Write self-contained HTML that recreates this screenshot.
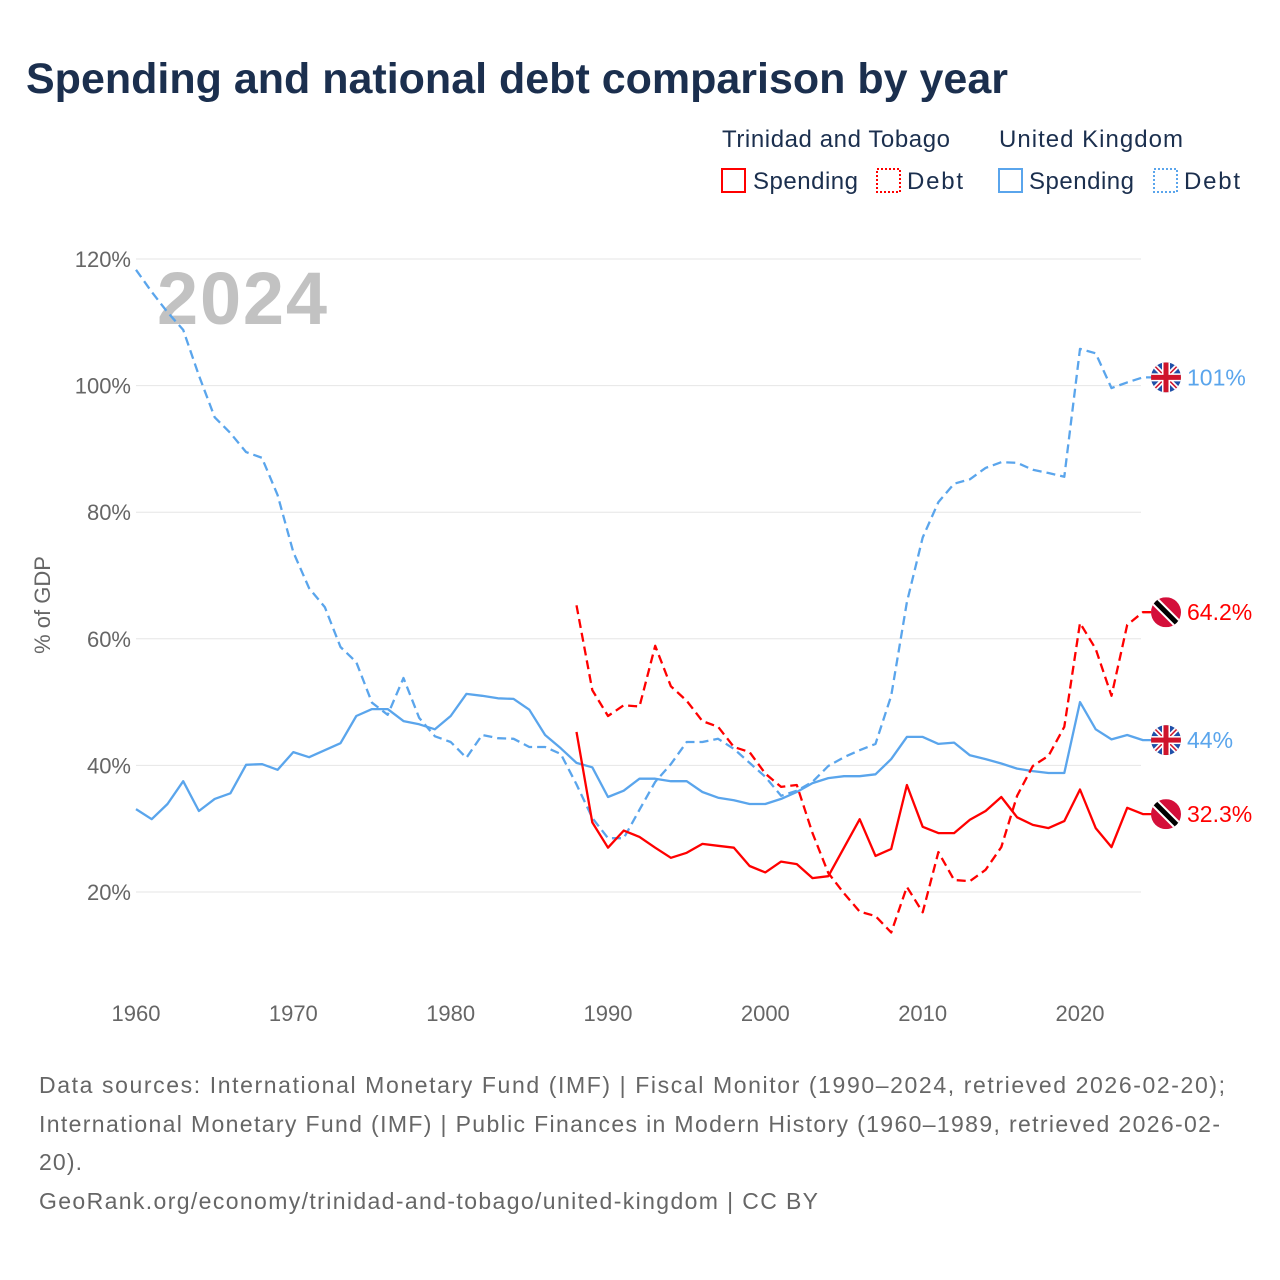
<!DOCTYPE html>
<html><head><meta charset="utf-8"><style>
body{margin:0;background:#fff;width:1280px;height:1280px;overflow:hidden;font-family:"Liberation Sans",sans-serif;}
svg{display:block}
</style></head><body>
<svg id="chart" width="1280" height="1280">
<text x="26" y="93" font-size="43" font-weight="bold" fill="#1b2f4e">Spending and national debt comparison by year</text>
<g font-size="24" fill="#1b2f4e">
<text x="722" y="147" textLength="228">Trinidad and Tobago</text>
<text x="999" y="147" textLength="184">United Kingdom</text>
<g><rect x="722" y="169" width="23" height="23" fill="none" stroke="#ff0000" stroke-width="2"/><text x="753" y="189" textLength="105">Spending</text></g>
<g><rect x="877" y="169" width="23" height="23" fill="none" stroke="#ff0000" stroke-width="2" stroke-dasharray="2,2"/><text x="907" y="189" textLength="56">Debt</text></g>
<g><rect x="999" y="169" width="23" height="23" fill="none" stroke="#5aa5ec" stroke-width="2"/><text x="1029" y="189" textLength="105">Spending</text></g>
<g><rect x="1154" y="169" width="23" height="23" fill="none" stroke="#5aa5ec" stroke-width="2" stroke-dasharray="2,2"/><text x="1184" y="189" textLength="56">Debt</text></g>
</g>
<text x="157" y="324" font-size="74" font-weight="bold" fill="#c2c2c2" textLength="170">2024</text>
<text transform="translate(50,605) rotate(-90)" text-anchor="middle" font-size="22" fill="#666">% of GDP</text>
<g id="grid"></g><g id="series"></g><g id="labels"></g>
<g font-size="23" fill="#666">
<text x="39" y="1093" textLength="1186">Data sources: International Monetary Fund (IMF) | Fiscal Monitor (1990–2024, retrieved 2026-02-20);</text>
<text x="39" y="1132" textLength="1181">International Monetary Fund (IMF) | Public Finances in Modern History (1960–1989, retrieved 2026-02-</text>
<text x="39" y="1170" textLength="43">20).</text>
<text x="39" y="1209" textLength="779">GeoRank.org/economy/trinidad-and-tobago/united-kingdom | CC BY</text>
</g>
</svg>
<script>
const yTicks=[20,40,60,80,100,120];
const xTicks=[1960,1970,1980,1990,2000,2010,2020];
const ukYears0=1960;
const ukSpending=[33.1,31.5,33.9,37.5,32.8,34.7,35.6,40.1,40.2,39.3,42.1,41.3,42.4,43.5,47.8,48.9,48.9,47,46.5,45.7,47.8,51.3,51,50.6,50.5,48.8,44.8,42.7,40.4,39.7,35,36,37.9,37.9,37.5,37.5,35.8,34.9,34.5,33.9,33.9,34.7,35.8,37.2,38,38.3,38.3,38.6,41,44.5,44.5,43.4,43.6,41.6,41,40.3,39.5,39.1,38.8,38.8,50,45.7,44.1,44.8,44];
const ukDebt=[118.3,114.8,111.6,108.8,101.6,95,92.5,89.5,88.6,82.7,73.7,68,65,58.7,56.3,49.9,48,53.8,47.5,44.6,43.7,41.2,44.8,44.3,44.2,42.9,42.9,41.8,37,31.7,28.5,28.5,33,37.4,40.2,43.7,43.7,44.2,42.6,40.4,38.2,35.2,36,37.4,39.9,41.3,42.4,43.4,51,65.8,76,81.6,84.5,85.2,87,87.9,87.8,86.7,86.2,85.6,105.8,105.1,99.6,100.5,101.3];
const ttYears0=1988;
const ttSpending=[45.3,31,27,29.7,28.7,27,25.4,26.2,27.6,27.3,27,24.1,23.1,24.8,24.4,22.2,22.5,27,31.5,25.7,26.8,36.9,30.3,29.3,29.3,31.4,32.8,35,31.8,30.6,30.1,31.2,36.2,30.1,27.1,33.3,32.3];
const ttDebt=[65.3,51.9,47.8,49.5,49.3,58.9,52.5,50.2,47,46.1,42.9,42.1,38.7,36.6,36.9,29.3,23,19.8,16.9,16.2,13.6,20.8,16.8,26.3,21.9,21.7,23.5,27.1,35.2,39.9,41.5,46.1,62.5,58.4,51,62.2,64.2];
const endLabels=["101%","64.2%","44%","32.3%"];

const NS="http://www.w3.org/2000/svg";
const X=yr=>136+(yr-1960)*944/60;
const Y=v=>892-(v-20)*633/100;
function mk(tag,attrs,parent){const e=document.createElementNS(NS,tag);for(const k in attrs)e.setAttribute(k,attrs[k]);parent.appendChild(e);return e;}
const grid=document.getElementById('grid'),series=document.getElementById('series'),labels=document.getElementById('labels');
yTicks.forEach(v=>{
 const l=mk('line',{x1:136,x2:1141,y1:Y(v),y2:Y(v),stroke:'#e6e6e6','stroke-width':1},grid);
 
 
 const t=mk('text',{x:131,y:Y(v)+8,'text-anchor':'end','font-size':22,fill:'#666'},grid);
 t.textContent=v+'%';
 
 
});
xTicks.forEach(yr=>{
 const t=mk('text',{x:X(yr),y:1021,'text-anchor':'middle','font-size':22,fill:'#666'},grid);
 t.textContent=yr;
 
 
});
function drawLine(vals,y0,color,dash,name){
 const pts=vals.map((v,i)=>X(y0+i).toFixed(1)+','+Y(v).toFixed(1));
 const last=vals[vals.length-1];
 pts.push('1152,'+Y(last).toFixed(1));
 const p=mk('polyline',{points:pts.join(' '),fill:'none',stroke:color,'stroke-width':2.3,'stroke-linejoin':'round'},series);
 if(dash)p.setAttribute('stroke-dasharray','9,5');
 
 
}
drawLine(ukSpending,ukYears0,'#5aa5ec',false,'uk-spending-line');
drawLine(ukDebt,ukYears0,'#5aa5ec',true,'uk-debt-line');
drawLine(ttSpending,ttYears0,'#ff0000',false,'tt-spending-line');
drawLine(ttDebt,ttYears0,'#ff0000',true,'tt-debt-line');
function ukFlag(cy,name){
 const g=mk('g',{},labels);
 
 
 const id='c'+Math.round(cy);
 const cp=mk('clipPath',{id:id},g);mk('circle',{cx:1166,cy:cy,r:15},cp);
 const h=mk('g',{'clip-path':'url(#'+id+')'},g);
 mk('rect',{x:1151,y:cy-15,width:30,height:30,fill:'#1f4fa8'},h);
 mk('line',{x1:1151,y1:cy-15,x2:1181,y2:cy+15,stroke:'#fff','stroke-width':5},h);
 mk('line',{x1:1181,y1:cy-15,x2:1151,y2:cy+15,stroke:'#fff','stroke-width':5},h);
 mk('line',{x1:1151,y1:cy-15,x2:1181,y2:cy+15,stroke:'#cf142b','stroke-width':1.5},h);
 mk('line',{x1:1181,y1:cy-15,x2:1151,y2:cy+15,stroke:'#cf142b','stroke-width':1.5},h);
 mk('rect',{x:1151,y:cy-4,width:30,height:8,fill:'#fff'},h);
 mk('rect',{x:1162,y:cy-15,width:8,height:30,fill:'#fff'},h);
 mk('rect',{x:1151,y:cy-2.5,width:30,height:5,fill:'#cf142b'},h);
 mk('rect',{x:1163.5,y:cy-15,width:5,height:30,fill:'#cf142b'},h);
}
function ttFlag(cy,name){
 const g=mk('g',{},labels);
 
 
 const id='t'+Math.round(cy);
 const cp=mk('clipPath',{id:id},g);mk('circle',{cx:1166,cy:cy,r:15},cp);
 const h=mk('g',{'clip-path':'url(#'+id+')'},g);
 mk('rect',{x:1151,y:cy-15,width:30,height:30,fill:'#d40f3a'},h);
 mk('line',{x1:1153,y1:cy-13,x2:1179,y2:cy+13,stroke:'#fff','stroke-width':9},h);
 mk('line',{x1:1153,y1:cy-13,x2:1179,y2:cy+13,stroke:'#000','stroke-width':5},h);
}
const lastVals=[ukDebt[ukDebt.length-1],ttDebt[ttDebt.length-1],ukSpending[ukSpending.length-1],ttSpending[ttSpending.length-1]];
const cols=['#5aa5ec','#ff0000','#5aa5ec','#ff0000'];
const names=['uk-debt','tt-debt','uk-spending','tt-spending'];
lastVals.forEach((v,i)=>{
 const cy=Y(v);
 if(i%2===0)ukFlag(cy,names[i]+'-flag');else ttFlag(cy,names[i]+'-flag');
 const t=mk('text',{x:1187,y:cy+8,'font-size':23,fill:cols[i]},labels);
 t.textContent=endLabels[i];
 
 
});
</script>
</body></html>
